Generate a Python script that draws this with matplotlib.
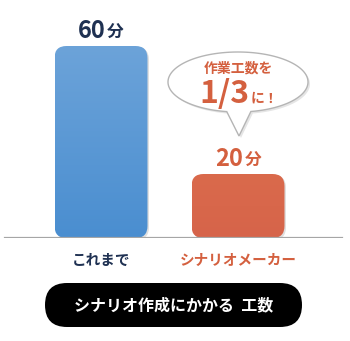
import numpy as np
import matplotlib.pyplot as plt
from matplotlib.patches import FancyBboxPatch, Polygon
from matplotlib.colors import LinearSegmentedColormap
from matplotlib.offsetbox import TextArea, HPacker, AnnotationBbox

plt.rcParams['font.family'] = ['Noto Sans CJK JP', 'DejaVu Sans']

# data
categories = ['これまで', 'シナリオメーカー']
minutes = [60, 20]
value_labels = ['60', '20']
unit = '分'
title = 'シナリオ作成にかかる  工数'
bubble_top = '作業工数を'
bubble_big = '1/3'
bubble_small = 'に！'

# style
bar_grad = [('#4a8ed0', '#6ca3d9'), ('#d6644a', '#da6a4c')]
text_colors = ['#1f3152', '#d4603f']

W, H = 350, 341
fig = plt.figure(figsize=(W / 100, H / 100), dpi=100)

# overlay in pixel coords for the decorations
ov = fig.add_axes([0, 0, 1, 1])
ov.set_xlim(0, W)
ov.set_ylim(H, 0)
ov.axis('off')

# bar axes: baseline at y=238px, 3.2 px per minute, 137 px between categories
base_px = 238
px_x = 1 / 137
px_y = 1 / 3.2
ax = fig.add_axes([0, (H - base_px) / H, 1, base_px / H])
xlim = (-101 * px_x, (W - 101) * px_x)
ylim = (0, base_px * px_y)
ax.axis('off')

bars = ax.bar(range(len(minutes)), minutes, width=93 * px_x, color='none')
grad = np.linspace(0, 1, 256).reshape(-1, 1)
for i, b in enumerate(bars):
    x0, w, h = b.get_x(), b.get_width(), b.get_height()
    style = 'round,pad=0,rounding_size=%f' % (12 * px_x)
    # soft shadow
    sh = FancyBboxPatch((x0 + 1.5 * px_x, -1.5 * px_y), w, h, boxstyle=style,
                        mutation_aspect=px_y / px_x, fc='#000000', ec='none',
                        alpha=0.12, zorder=1)
    ax.add_patch(sh)
    p = FancyBboxPatch((x0, 0), w, h, boxstyle=style,
                       mutation_aspect=px_y / px_x, fc='none', ec='none')
    ax.add_patch(p)
    cmap = LinearSegmentedColormap.from_list('g%d' % i, bar_grad[i])
    im = ax.imshow(grad, extent=(x0, x0 + w, 0, h), origin='lower', cmap=cmap,
                   aspect='auto', interpolation='bicubic', zorder=2)
    im.set_clip_path(p)

    # value label: big number + small unit
    c = text_colors[i]
    num = TextArea(value_labels[i], textprops=dict(size=17, weight='bold', color=c))
    un = TextArea(unit, textprops=dict(size=12, weight='bold', color=c))
    box = HPacker(children=[num, un], align='baseline', pad=0, sep=1)
    ab = AnnotationBbox(box, (b.get_x() + w / 2, h), xybox=(0, 2), xycoords='data',
                        boxcoords='offset points', box_alignment=(0.5, 0), frameon=False)
    ax.add_artist(ab)

    # category label
    ax.text(b.get_x() + w / 2, -22 * px_y, categories[i], ha='center', va='center',
            fontsize=10.5, weight='bold', color=c)

ax.axhline(0, xmin=5 / W, xmax=342 / W, color='#a6a6a6', lw=1.6, zorder=5)
ax.set_xlim(*xlim)
ax.set_ylim(*ylim)

# speech bubble
cx, cy, ra, rb = 238, 82, 70, 30
t = np.linspace(0, 2 * np.pi, 400)
pts = np.column_stack([cx + ra * np.cos(t), cy + rb * np.sin(t)])
gap_l, gap_r = 227, 250
# ellipse outline with a pointer inserted at the bottom
bottom = (pts[:, 1] > cy) & (pts[:, 0] > gap_l) & (pts[:, 0] < gap_r)
idx = np.where(bottom)[0]
outline = np.array(list(pts[idx[-1] + 1:]) + list(pts[:idx[0]]) + [(239, 136)])
ov.add_patch(Polygon(outline + [2, 2], closed=True, fc='#000000', ec='none', alpha=0.10))
ov.add_patch(Polygon(outline, closed=True, fc='white', ec='#b5b5b5', lw=1.0))
ov.text(238, 68, bubble_top, ha='center', va='center', fontsize=10,
        weight='bold', color=text_colors[1])
big = TextArea(bubble_big, textprops=dict(size=23, weight='bold', color=text_colors[1]))
sm = TextArea(bubble_small, textprops=dict(size=10, weight='bold', color=text_colors[1]))
hb = HPacker(children=[big, sm], align='baseline', pad=0, sep=1)
ov.add_artist(AnnotationBbox(hb, (239, 94), xycoords='data', box_alignment=(0.5, 0.5),
                             frameon=False))

# black pill with title
pill = FancyBboxPatch((45, 283), 257, 44, boxstyle='round,pad=0,rounding_size=22',
                      fc='black', ec='none')
ov.add_patch(pill)
ov.text(173.5, 305, title, ha='center', va='center', fontsize=11.5,
        weight='bold', color='white')

fig.savefig('out.png', dpi=100)
